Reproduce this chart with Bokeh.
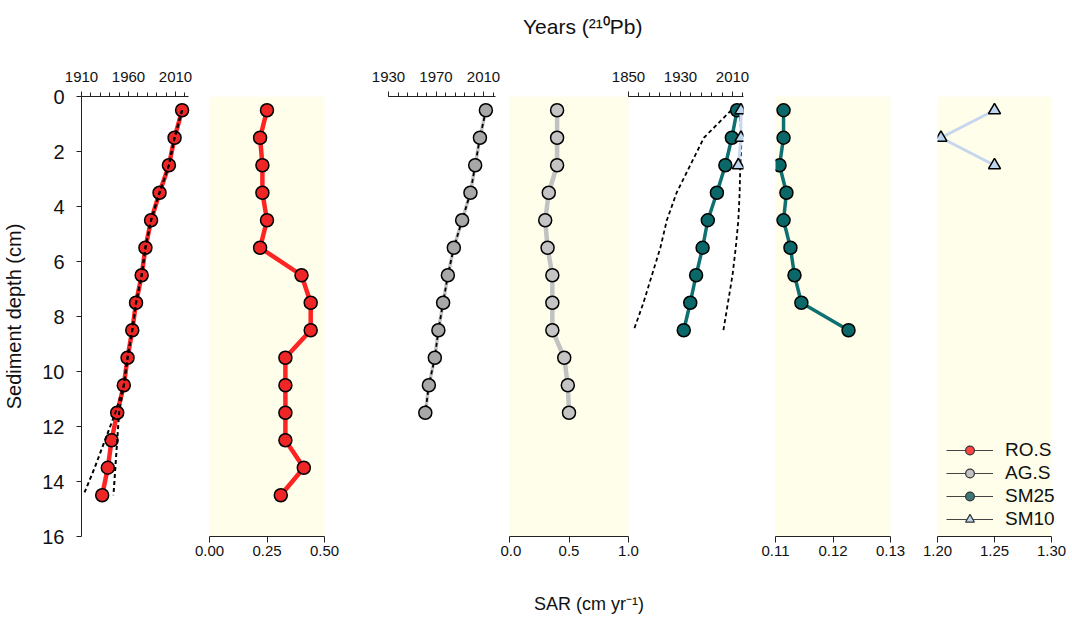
from bokeh.plotting import figure
from bokeh.models import (Range1d, LinearAxis, FixedTicker, PrintfTickFormatter,
                          BoxAnnotation, Legend, LegendItem)
from bokeh.layouts import row
from bokeh.embed import file_html
from bokeh.resources import INLINE

# ---------------- data ----------------
ros_depth = [0.5, 1.5, 2.5, 3.5, 4.5, 5.5, 6.5, 7.5, 8.5, 9.5, 10.5, 11.5, 12.5, 13.5, 14.5]
ros_year = [2017, 2009, 2003, 1993, 1984, 1978, 1974, 1968, 1964, 1959, 1955, 1948, 1942, 1938, 1932]
ros_year_lo = [2017, 2009, 2003, 1993, 1984, 1978, 1974, 1968, 1964, 1959, 1955, 1946, 1935, 1924, 1912]
ros_year_hi = [2017, 2009, 2003, 1993, 1984, 1978, 1974, 1968, 1964, 1959, 1955, 1950, 1948, 1946, 1944]
ros_sar = [0.25, 0.22, 0.23, 0.23, 0.25, 0.22, 0.40, 0.44, 0.44, 0.33, 0.33, 0.33, 0.33, 0.41, 0.31]

ags_depth = [0.5, 1.5, 2.5, 3.5, 4.5, 5.5, 6.5, 7.5, 8.5, 9.5, 10.5, 11.5]
ags_year = [2012, 2007, 2003, 1999, 1992, 1985, 1980, 1976, 1972, 1969, 1964, 1961]
ags_sar = [0.40, 0.40, 0.40, 0.33, 0.30, 0.32, 0.36, 0.36, 0.36, 0.46, 0.49, 0.50]

sm25_depth = [0.5, 1.5, 2.5, 3.5, 4.5, 5.5, 6.5, 7.5, 8.5]
sm25_year = [2017, 2009, 1999, 1986, 1972, 1964, 1954, 1945, 1935]
sm25_year_lo = [2008, 1966, 1945, 1924, 1909, 1899, 1886, 1873, 1858]
sm25_year_hi = [2021, 2024, 2022, 2021, 2019, 2015, 2010, 2003, 1996]
sm25_sar = [0.1114, 0.1114, 0.1107, 0.1119, 0.1114, 0.1126, 0.1133, 0.1145, 0.1227]

sm10_depth = [0.5, 1.5, 2.5]
sm10_year = [2023, 2023, 2019]
sm10_sar = [1.25, 1.203, 1.25]

depth_ticks = [0, 2, 4, 6, 8, 10, 12, 14, 16]
ros_year_ticks = [1910, 1960, 2010]
ags_year_ticks = [1930, 1970, 2010]
sm_year_ticks = [1850, 1930, 2010]
ros_sar_ticks = [0.0, 0.25, 0.5]
ags_sar_ticks = [0.0, 0.5, 1.0]
sm25_sar_ticks = [0.11, 0.12, 0.13]
sm10_sar_ticks = [1.20, 1.25, 1.30]
legend_labels = ["RO.S", "AG.S", "SM25", "SM10"]
top_title = "Years (\u00b2\u00b9\u2070Pb)"
bottom_title = "SAR (cm yr\u207b\u00b9)"

# ---------------- styles ----------------
YEL = "#FEFEEA"
RED_L, RED_F = "#FF2424", "#EE2626"
GRY_L, GRY_F3, GRY_F4 = "#C2C2C2", "#A8A8A8", "#C4C4C4"
TEAL_L, TEAL_F = "#0E7070", "#0A6868"
BLUE_L, BLUE_F = "#C9DAF0", "#BDD5EE"
FONT = "Liberation Sans"
AX = "#222222"
TXT = "#111111"
DASH = "4 3"
PAD = "\u00a0" * 15   # shifts the centred page titles left, onto x = 585 px

TOP, FRAME_H, BOTTOM = 96, 440, 85
H = TOP + FRAME_H + BOTTOM


def rng(v0, p0, v1, p1, f0, f1):
    k = (v1 - v0) / (p1 - p0)
    return Range1d(v0 + (f0 - p0) * k, v0 + (f1 - p0) * k)


def make_fig(width, left, right, x_range, x_loc="below", y_axis=False):
    p = figure(width=width, height=H, x_range=x_range, y_range=Range1d(16, 0),
               output_backend="svg", toolbar_location=None,
               x_axis_location=x_loc, y_axis_location=("left" if y_axis else None),
               min_border_left=left, min_border_right=right,
               min_border_top=TOP, min_border_bottom=BOTTOM)
    p.outline_line_color = None
    p.xgrid.visible = False
    p.ygrid.visible = False
    p.background_fill_color = "white"
    p.border_fill_color = "white"
    return p


def style_year_axis(ax, ticks, minor):
    ax.ticker = FixedTicker(ticks=ticks, minor_ticks=minor)
    ax.axis_line_color = AX
    ax.major_tick_line_color = AX
    ax.minor_tick_line_color = AX
    ax.major_tick_out = 5
    ax.major_tick_in = 0
    ax.minor_tick_out = 4
    ax.minor_tick_in = 0
    ax.major_label_standoff = 10
    ax.major_label_text_font = FONT
    ax.major_label_text_font_size = "15px"
    ax.major_label_text_color = TXT


def style_sar_axis(ax, ticks, fmt):
    ax.ticker = FixedTicker(ticks=ticks)
    ax.formatter = PrintfTickFormatter(format=fmt)
    ax.axis_line_color = AX
    ax.major_tick_line_color = AX
    ax.minor_tick_line_color = None
    ax.major_tick_out = 6
    ax.major_tick_in = 0
    ax.major_label_standoff = 3
    ax.major_label_text_font = FONT
    ax.major_label_text_font_size = "15px"
    ax.major_label_text_color = TXT


def title_axis(text, standoff, size):
    return LinearAxis(ticker=FixedTicker(ticks=[]),
                      axis_line_color=None, major_tick_line_color=None,
                      minor_tick_line_color=None, major_tick_out=0, major_tick_in=0,
                      major_label_standoff=0, major_label_text_font_size="0px",
                      axis_label=text, axis_label_standoff=standoff,
                      axis_label_text_font=FONT, axis_label_text_font_size=size,
                      axis_label_text_font_style="normal", axis_label_text_color=TXT)


# ---------------- Fig A: RO.S years (top) + RO.S SAR (bottom) ----------------
pA = make_fig(354, 81, 30, rng(ros_sar_ticks[0], 211, ros_sar_ticks[-1], 326, 83, 326), y_axis=True)
pA.extra_x_ranges = {"yrs": rng(1910, 83, 2010, 177, 83, 326)}
pA.add_layout(BoxAnnotation(left=ros_sar_ticks[0], right=ros_sar_ticks[-1], fill_color=YEL,
                            fill_alpha=1, line_alpha=0, level="underlay"))
axA = pA.xaxis[0]
axA.bounds = (ros_sar_ticks[0], ros_sar_ticks[-1])
style_sar_axis(axA, ros_sar_ticks, "%.2f")
topA = LinearAxis(x_range_name="yrs", bounds=(1910, 2024))
style_year_axis(topA, ros_year_ticks, list(range(1910, 2030, 10)))
pA.add_layout(topA, "above")

ya = pA.yaxis[0]
ya.ticker = FixedTicker(ticks=depth_ticks)
ya.minor_tick_line_color = None
ya.axis_line_color = AX
ya.major_tick_line_color = AX
ya.major_tick_out = 5
ya.major_tick_in = 0
ya.major_label_standoff = 12
ya.major_label_text_font = FONT
ya.major_label_text_font_size = "20px"
ya.major_label_text_color = TXT
ya.axis_label = "Sediment depth (cm)"
ya.axis_label_text_font = FONT
ya.axis_label_text_font_size = "20px"
ya.axis_label_text_font_style = "normal"
ya.axis_label_text_color = TXT
ya.axis_label_standoff = 14

# RO.S age model
pA.line(ros_year, ros_depth, x_range_name="yrs", line_color=RED_L, line_width=4.5)
pA.scatter(ros_year, ros_depth, x_range_name="yrs", marker="circle", size=13,
           fill_color=RED_F, line_color="black", line_width=1.5)
pA.line(ros_year_lo, ros_depth, x_range_name="yrs", line_color="black", line_width=2, line_dash=DASH)
pA.line(ros_year_hi, ros_depth, x_range_name="yrs", line_color="black", line_width=2, line_dash=DASH)
# RO.S SAR
pA.line(ros_sar, ros_depth, line_color=RED_L, line_width=4.5)
pA.scatter(ros_sar, ros_depth, marker="circle", size=13,
           fill_color=RED_F, line_color="black", line_width=1.5)

# ---------------- Fig A2: AG.S years (top) ----------------
pA2 = make_fig(146, 34, 5, rng(1930, 390, 2010, 485, 390, 497), x_loc="above")
style_year_axis(pA2.xaxis[0], ags_year_ticks, list(range(1930, 2021, 8)))
pA2.line(ags_year, ags_depth, line_color=GRY_L, line_width=3.5)
pA2.line(ags_year, ags_depth, line_color="black", line_width=1.8, line_dash=DASH)
pA2.scatter(ags_year, ags_depth, marker="circle", size=13,
            fill_color=GRY_F3, line_color="black", line_width=1.5)

# ---------------- Fig B: AG.S SAR (bottom) + SM25/SM10 years (top) ----------------
pB = make_fig(257, 9, 14, rng(ags_sar_ticks[0], 511, ags_sar_ticks[-1], 630, 511, 745))
pB.extra_x_ranges = {"yrs": rng(1850, 630, 2010, 734, 511, 745)}
pB.add_layout(BoxAnnotation(left=ags_sar_ticks[0], right=ags_sar_ticks[-1], fill_color=YEL,
                            fill_alpha=1, line_alpha=0, level="underlay"))
axB = pB.xaxis[0]
axB.bounds = (ags_sar_ticks[0], ags_sar_ticks[-1])
style_sar_axis(axB, ags_sar_ticks, "%.1f")
topB = LinearAxis(x_range_name="yrs", bounds=(1850, 2027))
style_year_axis(topB, sm_year_ticks, list(range(1850, 2030, 16)))
pB.add_layout(topB, "above")
# overall page titles
pB.add_layout(title_axis(top_title + PAD, 31, "21px"), "above")
pB.add_layout(title_axis(bottom_title + PAD, 35, "18px"), "below")

# AG.S SAR
pB.line(ags_sar, ags_depth, line_color=GRY_L, line_width=4.5)
pB.scatter(ags_sar, ags_depth, marker="circle", size=13,
           fill_color=GRY_F4, line_color="black", line_width=1.5)
# SM25 age model
pB.line(sm25_year_lo, sm25_depth, x_range_name="yrs", line_color="black", line_width=1.8, line_dash=DASH)
pB.line(sm25_year_hi, sm25_depth, x_range_name="yrs", line_color="black", line_width=1.8, line_dash=DASH)
pB.line(sm25_year, sm25_depth, x_range_name="yrs", line_color=TEAL_L, line_width=3.5)
pB.scatter(sm25_year, sm25_depth, x_range_name="yrs", marker="circle", size=13,
           fill_color=TEAL_F, line_color="black", line_width=1.5)
# SM10 age model
pB.line(sm10_year, sm10_depth, x_range_name="yrs", line_color=BLUE_L, line_width=3)
pB.scatter(sm10_year, sm10_depth, x_range_name="yrs", marker="triangle", size=12,
           fill_color=BLUE_F, line_color="black", line_width=1.5)

# ---------------- Fig C: SM25 SAR ----------------
pC = make_fig(156, 18, 23, Range1d(sm25_sar_ticks[0], sm25_sar_ticks[-1]))
pC.background_fill_color = YEL
style_sar_axis(pC.xaxis[0], sm25_sar_ticks, "%.2f")
pC.line(sm25_sar, sm25_depth, line_color=TEAL_L, line_width=3.5)
pC.scatter(sm25_sar, sm25_depth, marker="circle", size=13,
           fill_color=TEAL_F, line_color="black", line_width=1.5)

# ---------------- Fig D: SM10 SAR + legend ----------------
pD = make_fig(153, 24, 0, rng(sm10_sar_ticks[0], 939, sm10_sar_ticks[-1], 1053, 939, 1068))
pD.add_layout(BoxAnnotation(left=sm10_sar_ticks[0], right=sm10_sar_ticks[-1], fill_color=YEL,
                            fill_alpha=1, line_alpha=0, level="underlay"))
axD = pD.xaxis[0]
axD.bounds = (sm10_sar_ticks[0], sm10_sar_ticks[-1])
style_sar_axis(axD, sm10_sar_ticks, "%.2f")
pD.line(sm10_sar, sm10_depth, line_color="#C6D6EC", line_width=3)
pD.scatter(sm10_sar, sm10_depth, marker="triangle", size=12,
           fill_color=BLUE_F, line_color="black", line_width=1.5)

legend_fills = ["#FF4444", "#C2C2C2", "#3F7777", "#BDD7EE"]
legend_markers = ["circle", "circle", "circle", "triangle"]
nan = float("nan")
items = []
for lab, fc, mk in zip(legend_labels, legend_fills, legend_markers):
    lr = pD.line(x=[nan], y=[nan], line_color="#444444", line_width=1)
    sr = pD.scatter(x=[nan], y=[nan], marker=mk, size=14, fill_color=fc,
                    line_color="#333333", line_width=1.2)
    items.append(LegendItem(label=lab, renderers=[lr, sr]))
leg = Legend(items=items, location=(9, 6), padding=0, margin=0, spacing=1,
             label_height=22, glyph_height=22, glyph_width=47, label_standoff=12,
             label_text_font=FONT, label_text_font_size="19px", label_text_color=TXT,
             background_fill_alpha=0, border_line_alpha=0)
pD.add_layout(leg)

layout = row(pA, pA2, pB, pC, pD)
open("out.html", "w").write(file_html(layout, INLINE))
